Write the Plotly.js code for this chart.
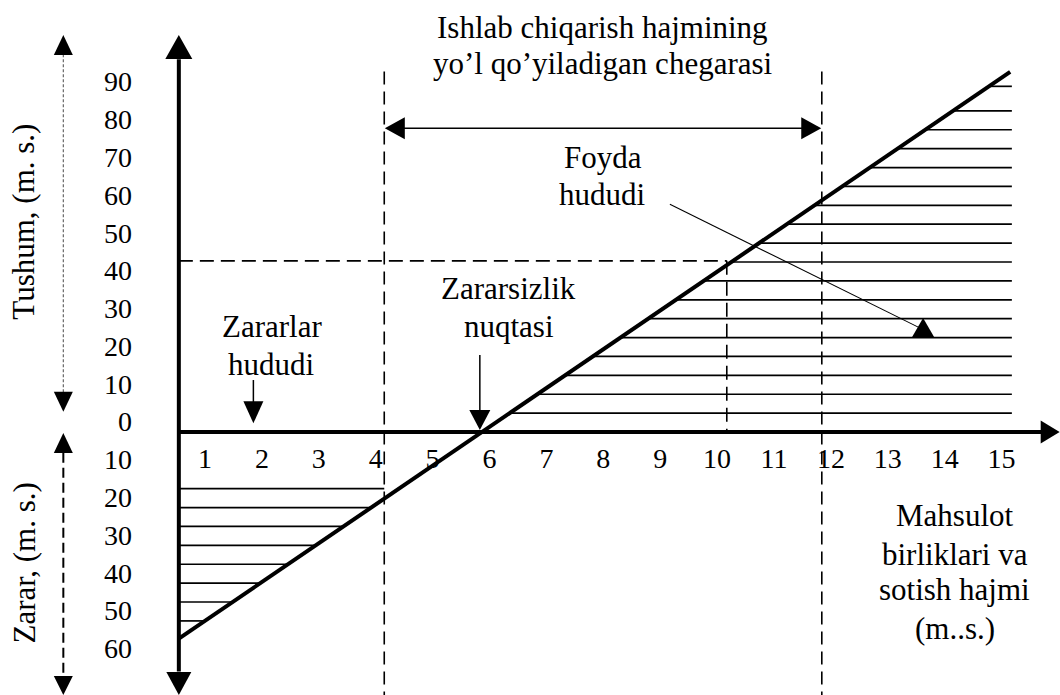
<!DOCTYPE html>
<html><head><meta charset="utf-8">
<script src="https://cdn.plot.ly/plotly-3.0.1.min.js"></script>
<style>html,body{margin:0;padding:0;background:#fff}#chart{width:1060px;height:695px}</style>
</head><body><div id="chart"></div>
<script>
// ---------------- data ----------------
const xTickValues = [1,2,3,4,5,6,7,8,9,10,11,12,13,14,15];
const xTickLabels = ['1','2','3','4','5','6','7','8','9','10','11','12','13','14','15'];
const revenueTicks = [0,10,20,30,40,50,60,70,80,90];      // Tushum (upper scale)
const lossTicks = [10,20,30,40,50,60];                     // Zarar (lower scale)
const lineX = [0.54, 15.15];                               // revenue / result line ends
const lineY = [-54.7, 95.3];
const lossHatchLevels = [-15,-20,-25,-30,-35,-40,-45,-50];
const profitHatchLevels = [5,10,15,20,25,30,35,40,45,50,55,60,65,70,75,80,85,91.5];
const allowedRange = [4.15, 11.84];                        // yo'l qo'yiladigan chegara
const refPoint = [10.17, 45.3];                            // dashed reference point
const breakEvenX = 5.83;                                   // Zararsizlik nuqtasi
const lossPointerX = 1.85;                                 // Zararlar hududi pointer
const profitPointer = {x:[9.17, 13.57], y:[60.3, 27.5]};   // Foyda hududi pointer

// ---------------- layout constants ----------------
const AX = 0.54;            // vertical axis position
const X_MIN = -2.603, X_MAX = 16.026;
const Y_MIN = -69.61, Y_MAX = 114.35;
const LABEL_SHIFT = 2.75;   // tick label offset from geometry
const FONT = 'Liberation Serif, Times New Roman, serif';
const HATCH_RIGHT = 15.18;
const SIDE_X = -1.49;

function lineXAt(y){ return lineX[0] + (y - lineY[0]) * (lineX[1]-lineX[0])/(lineY[1]-lineY[0]); }

function segs(list){ const xs=[], ys=[]; list.forEach(s=>{xs.push(s[0],s[2],null); ys.push(s[1],s[3],null);}); return {xs, ys}; }
function lineTrace(list, width, dash, color){
  const s = segs(list);
  return {x:s.xs, y:s.ys, type:'scatter', mode:'lines', hoverinfo:'skip', cliponaxis:false,
    line:{color:color||'#000', width:width, dash:dash||'solid'}};
}

// hatch lines
const lossSegs = lossHatchLevels.map(y => [AX, y, Math.min(lineXAt(y), allowedRange[0]), y]);
const profitSegs = profitHatchLevels.map(y => [lineXAt(y), y, HATCH_RIGHT, y]);

const traces = [
  lineTrace(lossSegs.concat(profitSegs), 1.7),
  // dashed boundaries
  lineTrace([[allowedRange[0], 95.4, allowedRange[0], Y_MIN],[allowedRange[1], 95.4, allowedRange[1], Y_MIN]], 1.6, '13px,7px'),
  lineTrace([[AX, refPoint[1], refPoint[0], refPoint[1]],[refPoint[0], refPoint[1], refPoint[0], 0]], 1.6, '14px,7px'),
  // side arrows
  lineTrace([[SIDE_X, 100, SIDE_X, 10.5]], 1.2, '3px,2px', '#666'),
  lineTrace([[SIDE_X, -5.5, SIDE_X, -64]], 2, '10px,5px'),
  // thin arrows
  lineTrace([[allowedRange[0]+0.3, 80.4, allowedRange[1]-0.3, 80.4]], 1.5),
  lineTrace([[lossPointerX, 13.76, lossPointerX, 7.0]], 1.5),
  lineTrace([[breakEvenX, 20.4, breakEvenX, 5]], 1.5),
  lineTrace([[profitPointer.x[0], profitPointer.y[0], profitPointer.x[1], profitPointer.y[1]]], 1.1),
  // axes
  lineTrace([[AX, -63.4, AX, 98.7]], 4),
  lineTrace([[AX, 0, 15.7, 0]], 4),
  // main line
  {x:lineX, y:lineY, type:'scatter', mode:'lines', hoverinfo:'skip', cliponaxis:false, line:{color:'#000', width:4}}
];

function tri(xa, ya, dir, w, h){
  let p;
  if(dir==='up') p = `M ${-w/2},${-h} L 0,0 L ${w/2},${-h} Z`;
  else if(dir==='down') p = `M ${-w/2},${h} L 0,0 L ${w/2},${h} Z`;
  else if(dir==='right') p = `M ${-h},${w/2} L 0,0 L ${-h},${-w/2} Z`;
  else p = `M ${h},${w/2} L 0,0 L ${h},${-w/2} Z`;
  return {type:'path', xref:'x', yref:'y', xsizemode:'pixel', ysizemode:'pixel', xanchor:xa, yanchor:ya,
    path:p, fillcolor:'#000', line:{width:0}, layer:'above'};
}
const shapes = [
  tri(AX, 105.1, 'up', 27, 24),
  tri(AX, Y_MIN, 'down', 25, 23),
  tri(16.02, 0, 'right', 23, 19),
  tri(SIDE_X, 105.1, 'up', 19, 20),
  tri(SIDE_X, 5.37, 'down', 19, 20),
  tri(SIDE_X, -0.26, 'up', 19, 20),
  tri(SIDE_X, Y_MIN, 'down', 19, 19),
  tri(allowedRange[0]+0.01, 80.4, 'left', 22, 20),
  tri(allowedRange[1]-0.01, 80.4, 'right', 22, 20),
  tri(lossPointerX, 2.3, 'down', 20, 22),
  tri(breakEvenX, 0.5, 'down', 21, 20),
  {type:'path', xref:'x', yref:'y', xsizemode:'pixel', ysizemode:'pixel', xanchor:13.62, yanchor:25.14,
    path:'M -11,0 L 0,19 L 11,0 Z', fillcolor:'#000', line:{width:0}, layer:'above'}
];

function txt(text, x, y, extra){
  return Object.assign({text:text, x:x, y:y, xref:'x', yref:'y', showarrow:false, xanchor:'center', yanchor:'middle',
    font:{family:FONT, size:31, color:'#000'}}, extra||{});
}
const annotations = [
  txt('Ishlab chiqarish hajmining', 7.99, 107.0),
  txt('yo\u2019l qo\u2019yiladigan chegarasi', 7.99, 97.6),
  txt('Foyda', 7.99, 72.7),
  txt('hududi', 7.99, 63.0),
  txt('Zararsizlik', 6.34, 38.1),
  txt('nuqtasi', 6.34, 27.9),
  txt('Zararlar', 2.17, 27.9),
  txt('hududi', 2.17, 17.9),
  txt('Mahsulot', 14.18, -22.2),
  txt('birliklari va', 14.18, -32.3),
  txt('sotish hajmi', 14.18, -41.8),
  txt('(m..s.)', 14.18, -52.1),
  txt('Tushum, (m. s.)', -2.18, 55.7, {textangle:-90}),
  txt('Zarar, (m. s.)', -2.18, -34.8, {textangle:-90})
];

const yTickVals = revenueTicks.map(v => v + LABEL_SHIFT).concat(lossTicks.map(v => -v + LABEL_SHIFT));
const yTickText = revenueTicks.map(String).concat(lossTicks.map(String));

const layout = {
  width:1060, height:695, margin:{l:0,r:0,t:0,b:0}, paper_bgcolor:'#fff', plot_bgcolor:'#fff',
  showlegend:false, hovermode:false,
  xaxis:{range:[X_MIN, X_MAX], showgrid:false, zeroline:false, showline:false, fixedrange:true,
    tickmode:'array', tickvals:xTickValues, ticktext:xTickLabels, tickfont:{family:FONT, size:28, color:'#000'},
    anchor:'free', position:(695-432)/695, ticks:'outside', ticklen:1, tickcolor:'rgba(0,0,0,0)'},
  yaxis:{range:[Y_MIN, Y_MAX], showgrid:false, zeroline:false, showline:false, fixedrange:true,
    tickmode:'array', tickvals:yTickVals, ticktext:yTickText, tickfont:{family:FONT, size:28, color:'#000'},
    anchor:'free', position:132/1060, ticks:''},
  shapes:shapes, annotations:annotations
};
Plotly.newPlot('chart', traces, layout, {displayModeBar:false, staticPlot:true});
</script></body></html>
